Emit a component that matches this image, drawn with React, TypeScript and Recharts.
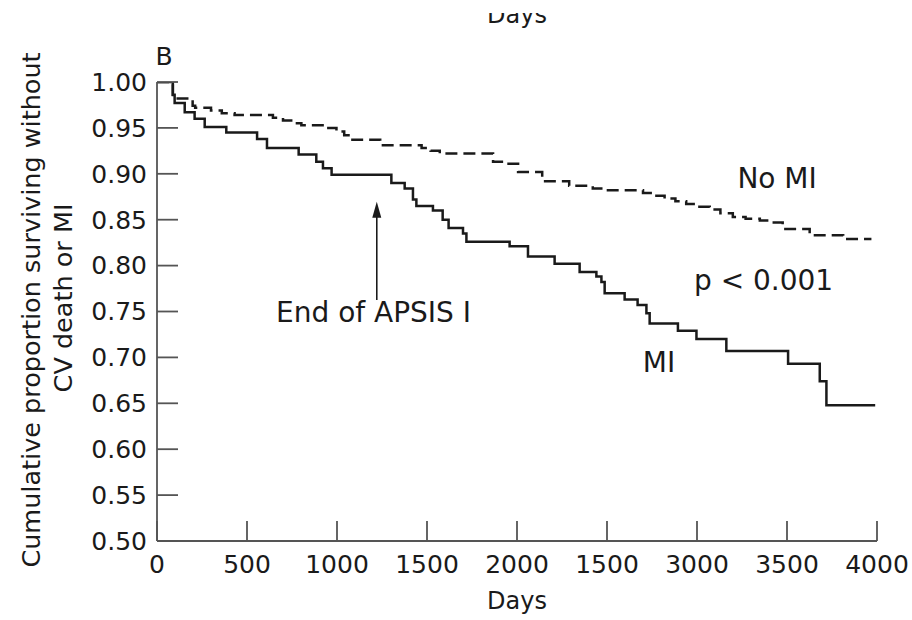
import React from 'react';
import { LineChart, Line, XAxis, YAxis, ReferenceDot, ReferenceLine } from 'recharts';

// Kaplan-Meier step data
const miDays = [0, 88, 98, 154, 209, 265, 385, 556, 611, 787, 885, 922, 970, 1302, 1376, 1422, 1441, 1533, 1587, 1620, 1700, 1719, 1959, 2061, 2209, 2348, 2441, 2469, 2487, 2598, 2670, 2719, 2737, 2894, 2997, 3163, 3506, 3682, 3719, 3990];
const miSurvival = [1.0, 0.986, 0.977, 0.967, 0.96, 0.951, 0.945, 0.938, 0.928, 0.921, 0.913, 0.906, 0.899, 0.89, 0.884, 0.872, 0.865, 0.86, 0.85, 0.841, 0.835, 0.826, 0.821, 0.81, 0.802, 0.793, 0.788, 0.782, 0.77, 0.763, 0.757, 0.748, 0.737, 0.729, 0.72, 0.707, 0.693, 0.674, 0.648, 0.648];

const noMiDays = [0, 88, 198, 212, 300, 360, 431, 644, 700, 760, 802, 941, 997, 1040, 1071, 1240, 1470, 1520, 1571, 1867, 1940, 2006, 2140, 2290, 2421, 2480, 2700, 2760, 2820, 2880, 2940, 3000, 3071, 3130, 3199, 3270, 3349, 3400, 3476, 3626, 3812, 3969];
const noMiSurvival = [1.0, 0.982, 0.974, 0.972, 0.969, 0.966, 0.964, 0.961, 0.958, 0.955, 0.953, 0.95, 0.946, 0.942, 0.937, 0.931, 0.928, 0.925, 0.922, 0.913, 0.911, 0.902, 0.892, 0.887, 0.884, 0.882, 0.879, 0.876, 0.873, 0.87, 0.867, 0.864, 0.861, 0.857, 0.853, 0.851, 0.849, 0.847, 0.84, 0.833, 0.829, 0.829];

const xTickValues = [0, 500, 1000, 1500, 2000, 2500, 3000, 3500, 4000];
const xTickLabels = ['0', '500', '1000', '1500', '2000', '1500', '3000', '3500', '4000'];
const yTickValues = [0.5, 0.55, 0.6, 0.65, 0.7, 0.75, 0.8, 0.85, 0.9, 0.95, 1.0];
const yTickLabels = ['0.50', '0.55', '0.60', '0.65', '0.70', '0.75', '0.80', '0.85', '0.90', '0.95', '1.00'];

const annotationTexts = ['No MI', 'p < 0.001', 'MI', 'End of APSIS I'];
const annotationDays = [3445, 3370, 2789, 1203];
const annotationValues = [0.8954, 0.7843, 0.6944, 0.7484];

const arrowDay = 1221;
const arrowFrom = 0.7625;
const arrowTo = 0.8696;

const miData = miDays.map((d, i) => ({ day: d, surv: miSurvival[i] }));
const noMiData = noMiDays.map((d, i) => ({ day: d, surv: noMiSurvival[i] }));

const FONT = "'DejaVu Sans', sans-serif";
const AXIS = '#555';
const INK = '#1a1a1a';

const textShape = (label: string) => (props: any) => (
  <text
    x={props.cx}
    y={props.cy}
    textAnchor="middle"
    dominantBaseline="central"
    fontFamily={FONT}
    fontSize={28}
    fill={INK}
  >
    {label}
  </text>
);

const arrowHead = (props: any) => (
  <polygon
    points={`${props.cx},${props.cy} ${props.cx - 4.5},${props.cy + 16} ${props.cx + 4.5},${props.cy + 16}`}
    fill={INK}
  />
);

const yLabel = (props: any) => {
  const vb = props.viewBox || { x: 0, y: 0 };
  const x1 = vb.x + 40;
  const x2 = vb.x + 72;
  const y1 = 310;
  const y2 = 298;
  return (
    <g>
      <text x={x1} y={y1} transform={`rotate(-90, ${x1}, ${y1})`} textAnchor="middle" fontFamily={FONT} fontSize={25.5} fill={INK}>
        Cumulative proportion surviving without
      </text>
      <text x={x2} y={y2} transform={`rotate(-90, ${x2}, ${y2})`} textAnchor="middle" fontFamily={FONT} fontSize={25.5} fill={INK}>
        CV death or MI
      </text>
    </g>
  );
};

const xLabel = (props: any) => {
  const vb = props.viewBox || { x: 0, y: 0, width: 0 };
  return (
    <text x={vb.x + vb.width / 2} y={vb.y + 68} textAnchor="middle" fontFamily={FONT} fontSize={24} fill={INK}>
      Days
    </text>
  );
};

export default function App() {
  return (
    <div style={{ position: 'absolute', left: 0, top: 0, width: 912, height: 620, background: '#fff' }}>
      <svg width={912} height={20} style={{ position: 'absolute', left: 0, top: 13, overflow: 'hidden' }}>
        <text x={517} y={10} textAnchor="middle" fontFamily={FONT} fontSize={24} fill={INK}>
          Days
        </text>
      </svg>
      <svg width={40} height={40} style={{ position: 'absolute', left: 144, top: 36 }}>
        <text x={20} y={29} textAnchor="middle" fontFamily={FONT} fontSize={25} fill={INK}>
          B
        </text>
      </svg>
      <LineChart
        width={912}
        height={620}
        margin={{ top: 82, right: 35, bottom: 0, left: 0 }}
        style={{ position: 'absolute', left: 0, top: 0 }}
      >
        <XAxis
          type="number"
          dataKey="day"
          domain={[0, 4000]}
          ticks={xTickValues}
          tickFormatter={(v: number) => xTickLabels[xTickValues.indexOf(v)] ?? String(v)}
          height={79}
          tickSize={-20}
          tickMargin={34}
          stroke={AXIS}
          strokeWidth={1.8}
          tick={{ fill: INK, fontSize: 25, fontFamily: FONT }}
          tickLine={{ stroke: AXIS, strokeWidth: 1.8 }}
          interval={0}
          allowDataOverflow
          label={xLabel}
        />
        <YAxis
          type="number"
          domain={[0.5, 1.0]}
          ticks={yTickValues}
          tickFormatter={(v: number) => yTickLabels[yTickValues.indexOf(v)] ?? v.toFixed(2)}
          width={157}
          tickSize={-21}
          tickMargin={31}
          stroke={AXIS}
          strokeWidth={1.8}
          tick={{ fill: INK, fontSize: 25, fontFamily: FONT }}
          tickLine={{ stroke: AXIS, strokeWidth: 1.8 }}
          interval={0}
          allowDataOverflow
          label={yLabel}
        />
        <Line
          data={noMiData}
          dataKey="surv"
          type="stepAfter"
          stroke={INK}
          strokeWidth={2.5}
          strokeDasharray="12 6"
          dot={false}
          activeDot={false}
          isAnimationActive={false}
        />
        <Line
          data={miData}
          dataKey="surv"
          type="stepAfter"
          stroke={INK}
          strokeWidth={2.5}
          dot={false}
          activeDot={false}
          isAnimationActive={false}
        />
        <ReferenceLine
          segment={[
            { x: arrowDay, y: arrowFrom },
            { x: arrowDay, y: arrowTo - 0.012 },
          ]}
          stroke={INK}
          strokeWidth={1.6}
        />
        <ReferenceDot x={arrowDay} y={arrowTo} r={1} shape={arrowHead} />
        {annotationTexts.map((t, i) => (
          <ReferenceDot key={t} x={annotationDays[i]} y={annotationValues[i]} r={1} shape={textShape(t)} />
        ))}
      </LineChart>
    </div>
  );
}
